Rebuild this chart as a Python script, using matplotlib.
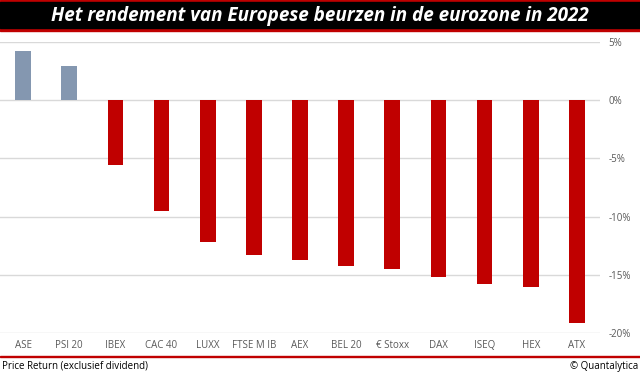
import matplotlib.pyplot as plt
from matplotlib.patches import Rectangle

# data
indices = ['ASE', 'PSI 20', 'IBEX', 'CAC 40', 'LUXX', 'FTSE M IB', 'AEX',
           'BEL 20', '€ Stoxx', 'DAX', 'ISEQ', 'HEX', 'ATX']
returns = [4.2, 2.9, -5.55, -9.5, -12.2, -13.3, -13.75,
           -14.25, -14.45, -15.2, -15.8, -16.0, -19.1]
yticks = [5, 0, -5, -10, -15, -20]

plt.rcParams['font.family'] = ['Open Sans', 'DejaVu Sans']

fig = plt.figure(figsize=(6.4, 3.75), dpi=100)
H = 375.0

# title band: red lines around a black strip
fig.patches.append(Rectangle((0, 1 - 31 / H), 1, 31 / H, transform=fig.transFigure,
                             color='#C00000', zorder=0))
fig.patches.append(Rectangle((0, 1 - 28 / H), 1, 26.5 / H, transform=fig.transFigure,
                             color='black', zorder=1))
fig.text(0.5, 1 - 15.5 / H, 'Het rendement van Europese beurzen in de eurozone in 2022',
         color='white', fontsize=13.6, fontweight='bold', fontstyle='italic',
         ha='center', va='center', zorder=2)

ax = fig.add_axes([0, (H - 333.3) / H, 600 / 640, (333.3 - 41.7) / H])
colors = ['#8497B0' if r > 0 else '#C00000' for r in returns]
x = range(len(indices))
ax.bar(x, returns, width=0.34, color=colors, zorder=3)

ax.set_xlim(-0.5, len(indices) - 0.5)
ax.set_ylim(-20, 5)
ax.set_yticks(yticks)
ax.set_yticklabels([f'{t}%' for t in yticks], fontsize=7, color='#595959')
ax.yaxis.tick_right()
ax.tick_params(axis='y', length=0, pad=6)
ax.grid(axis='y', color='#D9D9D9', linewidth=1, zorder=0)
ax.set_xticks(list(x))
ax.set_xticklabels(indices, fontsize=7, color='#595959')
ax.tick_params(axis='x', length=0, pad=5)
for s in ax.spines.values():
    s.set_visible(False)

# bottom red rule and footer
fig.patches.append(Rectangle((0, 1 - 357 / H), 1, 1.5 / H, transform=fig.transFigure,
                             color='#C00000'))
fig.text(2 / 640, 1 - 366 / H, 'Price Return (exclusief dividend)', fontsize=7,
         color='black', ha='left', va='center')
fig.text(638 / 640, 1 - 366 / H, '© Quantalytica', fontsize=7,
         color='black', ha='right', va='center')

plt.savefig('out.png', dpi=100)
